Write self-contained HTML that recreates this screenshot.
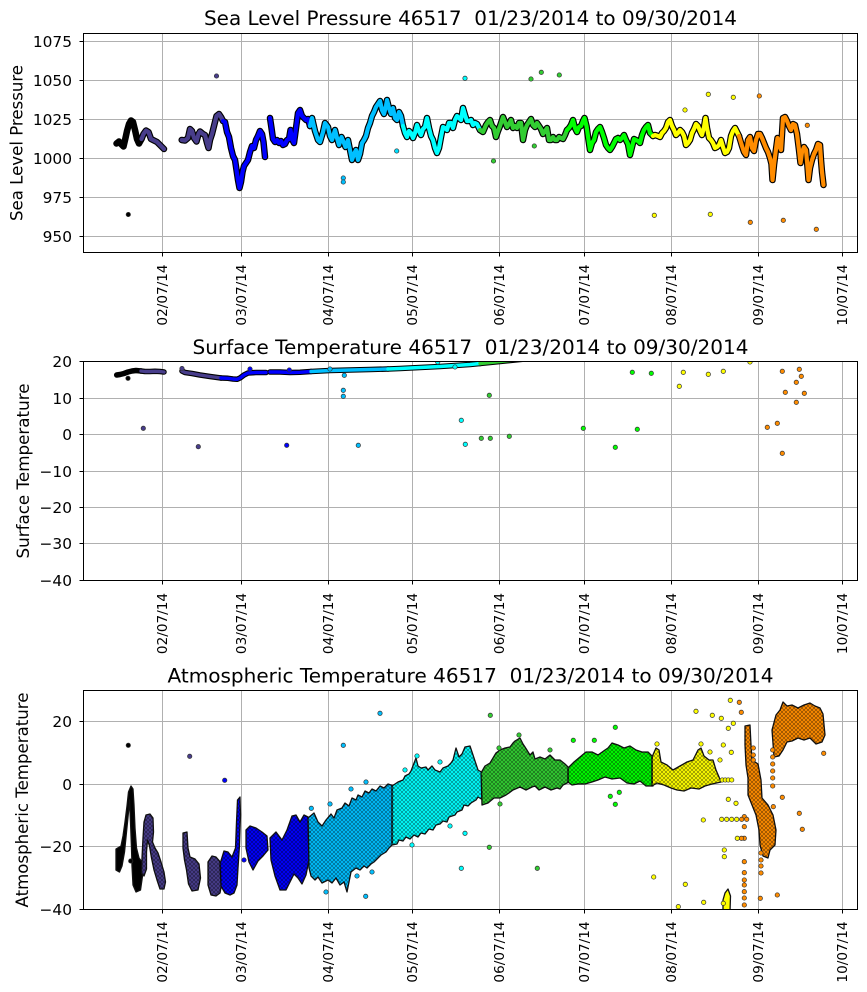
<!DOCTYPE html>
<html><head><meta charset="utf-8"><style>
html,body{margin:0;padding:0;background:#fff;}
svg{display:block;font-family:"DejaVu Sans","Liberation Sans",sans-serif;}
</style></head><body>
<svg width="867" height="992" viewBox="0 0 867 992" xmlns="http://www.w3.org/2000/svg">
<rect width="867" height="992" fill="#fff"/>
<defs>
<clipPath id="ax1"><rect x="83.5" y="33.5" width="774" height="219"/></clipPath>
<clipPath id="ax2"><rect x="83.5" y="361.5" width="774" height="219"/></clipPath>
<clipPath id="ax3"><rect x="83.5" y="690.5" width="774" height="219"/></clipPath>
<pattern id="sp" width="4" height="4" patternUnits="userSpaceOnUse"><circle cx="2" cy="2" r="1.4" fill="none" stroke="#000" stroke-width="0.6" opacity="0.6"/></pattern>
<!-- plot1 series -->
<path id="a_k" d="M116.5,143.5 L119,141.5 L121,144 L123.5,146.5 L125.5,138 L127,131 L129,124 L131,120.5 L133,122 L135,130 L137,139 L139,143.5 L141.5,139"/>
<path id="a_p" d="M141.5,139 L143.5,134 L146,130.5 L148.5,132 L151,139 L154,140.5 L157,142 L160,145 L164,149 M181.7,140 L185,140.5 L188,138 L190,129 L192,131 L194,138 L196.5,141.5 L198.5,134 L200,131.5 L203,134 L205,135 L207,143 L208.5,148 L210,140 L212,134 L214,126 L216.5,116 L219,114 L221,117 L223,121"/>
<path id="a_b" d="M223,121 L225,122 L227,132 L229,137 L231,148 L233,156 L235,160 L236.5,170 L238,180 L239.5,188 L241,182 L242.5,172 L244,166 L246,163 L248,160 L250,152 L252,146 L254,148 L256,140 L258,136 L260,131 L262,134 L263.5,142 L265,157 M270,118 L271.5,128 L273,139 L275,142 L277,140 L279,143 L281,141 L283,145 L285,144 L287,140 L289,139 L290.5,130 L292,139 L294,143 L296,128 L298,113 L300,110 L302,116 L304,118 L306,120 L308,119 L310,126"/>
<path id="a_s" d="M310,126 L312,118 L315,131 L318,140 L320,142 L323,132 L325,123 L328,127 L330,136 L332,140 L335,130 L337,138 L339,145 L341.5,137 L344,143 L345.5,147 L348,140 L350,150 L352,160 L354,154 L356,150 L358,160 L360,154 L362,143 L364,140 L366,136 L368,128 L370,123 L372,116 L374,112 L376,107 L378,104 L380,101 L382,110 L384,114 L386,106 L387,100 L389,108 L391,114 L393,108 L395,118 L397,120 L399,112 L401,116 L403,126"/>
<path id="a_c" d="M403,126 L405,133 L407,137 L409,131 L411,133 L413,138 L415,133 L417,125 L419,131 L421,135 L423,129 L425,127 L427,118 L429,128 L431,136 L433,140 L435,148 L437,153 L439,148 L441,137 L443,127 L445,128 L447,130 L449,123 L451,123 L453,128 L455,120 L457,116 L459,118 L461,120 L463,108 L465,115 L467,121 L469,121 L471,120 L473,125 L475,123 L477,124 L480,130"/>
<path id="a_g" d="M480,130 L483,132 L486,125 L488,122 L490,120 L492,126 L494,128 L496,137 L498,131 L500,126 L503,117 L505,122 L507,127 L509,124 L511,120 L513,128 L515,126 L517,128 L519,123 L521,123 L523,140 L525,130 L527,125 L529,122 L531,119 L533,125 L535,127 L537,123 L539,126 L541,129 L543,134 L545,131 L547,128 L549,140 L551,140 L553,137 L555,140 L557,140 L559,137 L561,138 L563,139 L565,135 L567,130"/>
<path id="a_l" d="M567,130 L569,128 L571,125 L573,120 L575,128 L577,132 L579,127 L581,126 L583,121 L584.5,118 L586.5,126 L588.5,140 L590,150 L592,143 L594,140 L596,132 L598,129 L600,127 L602,132 L604,138 L606,145 L608,148 L610,150 L612,147 L614,143 L616,139 L618,138 L620,140 L622,138 L624,135 L626,140 L628,144 L630,155 L632,147 L634,139 L636,140 L638,141 L640,143 L642,135 L644,130 L646,127 L648,125 L650,133 L653,136"/>
<path id="a_y" d="M653,136 L655,135 L658,136 L660,137 L662,133 L664,131 L666,128 L668,122 L670,120 L672,126 L674,130 L676,135 L678,133 L680,130 L682,132 L684,136 L686,145 L688,143 L690,140 L692,133 L694,129 L696,124 L698,126 L700,131 L702,135 L704,127 L705.5,118 L707,128 L709,138 L711,140 L713,143 L715,148 L717,147 L719,145 L721,140 L723,147 L725,153 L727,152 L729,148 L731,136 L733,131 L735,128 L737,132 L739,136"/>
<path id="a_o" d="M739,136 L742,146 L744,152 L746,155 L748,140 L750,137 L752,148 L754,151 L756,140 L758,134 L760,134 L762,138 L764,143 L766,148 L768,152 L770,158 L771.5,164 L772.5,180 L774,165 L775.5,153 L777.5,138 L779,145 L781,150 L783,118 L785,117 L787,121 L789,126 L791,130 L793,124 L795,125 L797,134 L799,150 L800.5,163 L802,152 L804,147 L806,150 L807.5,167 L808.5,180 L810,168 L812,160 L814,154 L816,150 L818,144 L820,145 L821,160 L822,172 L823.5,185"/>
<!-- plot2 series -->
<path id="b_k" d="M116.7,375 L120,374.5 L124,373.5 L128,372 L132,371 L136,370.5 L141,371"/>
<path id="b_p" d="M141,371 L145,371.5 L150,371.5 L155,371.3 L160,371.5 L164,372 M182,371 L185,372.5 L192,373.5 L200,375 L210,376.5 L221,378"/>
<path id="b_b" d="M221,378 L228,378.3 L233,379 L237,379.3 L240,378 L244,375 L248,373 L256,372.5 L266,372.5 M270,372 L280,372 L290,372.5 L300,372.3 L311,371.5"/>
<path id="b_s" d="M311,371.5 L330,370.5 L350,370 L370,369.5 L388,369"/>
<path id="b_c" d="M388,369 L400,368.5 L420,367.5 L440,366.5 L455,365.5 L470,364.5 L480,363.5"/>
<path id="b_g" d="M480,363.5 L490,362.5 L500,361.5 L525,359"/>
<!-- plot3 clouds -->
<path id="c_k" d="M116,870 L116,849 L121,846 L123,836 L125,822 L127,806 L128.5,792 L131,786 L133,789 L134,805 L135,828 L136.5,848 L139,858 L142,862 L142.5,876 L140.5,890 L136,892 L133,885 L132,866 L131.5,848 L130.5,822 L129.5,800 L128.5,812 L126.5,832 L124.5,852 L122,866 L119.5,872 Z"/>
<path id="c_p1" d="M142,858 L143,838 L144,822 L146,815 L150,814 L153,818 L153.5,832 L152.5,842 L155,848 L158,853 L161,862 L164,872 L165.5,882 L164,889 L160,889 L157,880 L154,870 L151.5,858 L149.5,846 L147.5,840 L146.5,852 L146.5,869 L144,876 L141.5,873 Z"/>
<path id="c_p2" d="M183,833 L187,832 L188,848 L190,857 L195,859 L199,864 L200.5,878 L198,890 L192,891 L188.5,884 L186.5,870 L184.5,860 L183,848 Z"/>
<path id="c_p3" d="M208,862 L212,856 L216,857 L219.5,861 L222,866 L222,882 L220,893 L216,896 L211,895 L208,885 Z"/>
<path id="c_b1" d="M220,864 L224,851 L228,852 L232,857 L235.5,848 L236.5,822 L237.5,800 L240,797 L240.5,815 L239.5,845 L238,868 L237,885 L234,893 L230,895 L225,893 L221,886 Z"/>
<path id="c_b2" d="M246,830 L250,826 L256,828 L262,832 L267,836 L268,850 L263,856 L258,861 L253,870 L249,862 L246,848 Z"/>
<path id="c_b3" d="M270,838 L276,832 L282,840 L287,830 L292,816 L296,815 L300,822 L304,815 L308,817 L311,830 L309,860 L306,875 L302,884 L298,878 L294,874 L290,882 L286,890 L280,890 L275,876 L271,860 Z"/>
<path id="c_s" d="M308,818 L314,813 L318,822 L322,826 L326,820 L331,814 L334,818 L337,810 L342,808 L345,803 L349,806 L352,798 L356,800 L358,795 L362,797 L365,791 L369,793 L372,789 L376,791 L380,786 L384,788 L388,784 L394,786 L394,843 L389,848 L386,852 L381,855 L378,858 L374,862 L371,864 L367,868 L364,866 L360,870 L356,868 L351,872 L347,892 L344,882 L340,885 L336,878 L332,883 L328,880 L322,883 L318,877 L315,880 L311,876 L309,868 Z"/>
<path id="c_c" d="M392,786 L398,782 L403,780 L405,776 L409,774 L411,771 L416,758 L418,766 L421,768 L426,767 L428,770 L432,766 L435,770 L440,772 L443,768 L448,766 L451,763 L453,760 L456,748 L459,757 L462,754 L465,747 L470,746 L472,752 L474,758 L478,770 L483,773 L483,800 L478,797 L476,800 L471,803 L468,806 L464,805 L462,810 L457,812 L455,815 L449,817 L447,822 L443,821 L440,824 L436,825 L433,830 L429,829 L425,834 L421,833 L418,837 L414,835 L410,839 L406,837 L403,841 L399,840 L397,844 L392,845 Z"/>
<path id="c_g" d="M481,773 L485,766 L490,763 L493,758 L496,753 L500,750 L505,748 L510,747 L513,743 L515,741 L520,738 L523,744 L525,747 L530,755 L533,752 L535,759 L540,757 L545,759 L550,755 L555,760 L560,760 L565,764 L569,768 L569,782 L563,785 L560,789 L557,788 L551,790 L545,787 L539,790 L535,786 L532,787 L526,790 L520,787 L513,790 L509,793 L506,795 L500,798 L494,798 L488,803 L482,805 Z"/>
<path id="c_l" d="M568,768 L574,762 L580,757 L586,752 L592,752 L598,755 L605,750 L608,748 L612,743 L618,745 L624,748 L630,746 L636,750 L642,752 L648,752 L653,757 L653,786 L646,786 L640,781 L634,784 L627,783 L620,778 L612,779 L605,777 L598,780 L592,782 L585,784 L578,784 L572,785 L568,782 Z"/>
<path id="c_y" d="M652,757 L656,748 L659,750 L661,762 L667,765 L673,770 L680,766 L687,762 L693,760 L698,750 L701,748 L704,756 L709,760 L713,760 L716,770 L719,777 L721,782 L712,784 L705,786 L699,789 L691,788 L684,791 L677,790 L671,788 L664,785 L657,783 L652,786 Z"/>
<path id="c_yb" d="M725,893 L728,889 L730.5,896 L730,912 L723,912 L723,900 Z"/>
<path id="c_o1" d="M745,726 L750,725 L751,745 L752,760 L758,764 L761,780 L762,798 L768,805 L773,815 L776,830 L775,845 L770,850 L768,858 L763,856 L760,845 L759,830 L756,815 L752,805 L748,795 L748,778 L746,765 L745,745 Z"/>
<path id="c_o2" d="M772,730 L776,715 L780,710 L783,702 L787,706 L792,705 L798,708 L804,705 L810,703 L815,706 L820,708 L823,714 L825,735 L822,742 L816,744 L810,738 L804,740 L798,738 L792,741 L787,742 L783,750 L779,756 L774,757 Z"/>
</defs>

<!-- ================= PLOT 1 ================= -->
<path d="M162.5 33.5V252.5M241.5 33.5V252.5M328.5 33.5V252.5M412.5 33.5V252.5M499.5 33.5V252.5M584.5 33.5V252.5M671.5 33.5V252.5M758.5 33.5V252.5M842.5 33.5V252.5M83.5 41.5H857.5M83.5 80.5H857.5M83.5 119.5H857.5M83.5 158.5H857.5M83.5 197.5H857.5M83.5 236.5H857.5" stroke="#b0b0b0" stroke-width="1" fill="none"/>
<g clip-path="url(#ax1)" fill="none" stroke-linejoin="round" stroke-linecap="round">
<g stroke="#000" stroke-width="6.5">
<use href="#a_k"/><use href="#a_p"/><use href="#a_b"/><use href="#a_s"/><use href="#a_c"/><use href="#a_g"/><use href="#a_l"/><use href="#a_y"/><use href="#a_o"/>
</g>
<g stroke-width="4.2">
<use href="#a_k" stroke="#000"/><use href="#a_p" stroke="#483D8B"/><use href="#a_b" stroke="#0000FF"/><use href="#a_s" stroke="#00BFFF"/><use href="#a_c" stroke="#00FFFF"/><use href="#a_g" stroke="#32CD32"/><use href="#a_l" stroke="#00FF00"/><use href="#a_y" stroke="#FFFF00"/><use href="#a_o" stroke="#FF8C00"/>
</g>
</g>
<g stroke="#333" stroke-width="0.7">
<circle cx="128.3" cy="214.5" r="2.2" fill="#000"/>
<circle cx="216.5" cy="76" r="2.2" fill="#483D8B"/>
<circle cx="343.3" cy="178" r="2.2" fill="#00BFFF"/><circle cx="343.3" cy="182" r="2.2" fill="#00BFFF"/>
<circle cx="396.7" cy="151" r="2.2" fill="#00DFFF"/><circle cx="465" cy="78.3" r="2.2" fill="#00FFFF"/>
<circle cx="493.5" cy="161" r="2.2" fill="#32CD32"/><circle cx="531" cy="79" r="2.2" fill="#32CD32"/><circle cx="541.3" cy="72.3" r="2.2" fill="#32CD32"/><circle cx="559.3" cy="75" r="2.2" fill="#32CD32"/><circle cx="534.3" cy="146" r="2.2" fill="#32CD32"/>
<circle cx="685" cy="110" r="2.2" fill="#FFFF00"/><circle cx="708.3" cy="94.3" r="2.2" fill="#FFFF00"/><circle cx="733.3" cy="97.3" r="2.2" fill="#FFFF00"/><circle cx="654.3" cy="215.3" r="2.2" fill="#FFFF00"/><circle cx="710.3" cy="214.3" r="2.2" fill="#FFFF00"/>
<circle cx="759.3" cy="96" r="2.2" fill="#FF8C00"/><circle cx="807.3" cy="125.3" r="2.2" fill="#FF8C00"/><circle cx="750.3" cy="222.3" r="2.2" fill="#FF8C00"/><circle cx="783.3" cy="220.3" r="2.2" fill="#FF8C00"/><circle cx="816.3" cy="229.3" r="2.2" fill="#FF8C00"/>
</g>
<rect x="83.5" y="33.5" width="774" height="219" fill="none" stroke="#000" stroke-width="1"/>
<path d="M162.5 252.5v4M241.5 252.5v4M328.5 252.5v4M412.5 252.5v4M499.5 252.5v4M584.5 252.5v4M671.5 252.5v4M758.5 252.5v4M842.5 252.5v4M83.5 41.5h-4M83.5 80.5h-4M83.5 119.5h-4M83.5 158.5h-4M83.5 197.5h-4M83.5 236.5h-4" stroke="#000" stroke-width="1"/>
<g font-size="15.4" text-anchor="end" fill="#000">
<text x="72" y="47">1075</text><text x="72" y="86">1050</text><text x="72" y="125">1025</text><text x="72" y="164">1000</text><text x="72" y="203">975</text><text x="72" y="242">950</text>
</g>
<g font-size="13.6" text-anchor="end" fill="#000">
<text transform="translate(166.8,264.5) rotate(-90)">02/07/14</text>
<text transform="translate(245.8,264.5) rotate(-90)">03/07/14</text>
<text transform="translate(332.8,264.5) rotate(-90)">04/07/14</text>
<text transform="translate(416.8,264.5) rotate(-90)">05/07/14</text>
<text transform="translate(503.8,264.5) rotate(-90)">06/07/14</text>
<text transform="translate(588.8,264.5) rotate(-90)">07/07/14</text>
<text transform="translate(675.8,264.5) rotate(-90)">08/07/14</text>
<text transform="translate(762.8,264.5) rotate(-90)">09/07/14</text>
<text transform="translate(846.8,264.5) rotate(-90)">10/07/14</text>
</g>
<text transform="translate(22.5,143) rotate(-90)" text-anchor="middle" font-size="16.4" textLength="156" lengthAdjust="spacingAndGlyphs">Sea Level Pressure</text>
<text x="470.5" y="25" text-anchor="middle" font-size="19.9" textLength="533" lengthAdjust="spacingAndGlyphs">Sea Level Pressure 46517&#160;&#160;01/23/2014 to 09/30/2014</text>

<!-- ================= PLOT 2 ================= -->
<path d="M162.5 361.5V580.5M241.5 361.5V580.5M328.5 361.5V580.5M412.5 361.5V580.5M499.5 361.5V580.5M584.5 361.5V580.5M671.5 361.5V580.5M758.5 361.5V580.5M842.5 361.5V580.5M83.5 398.5H857.5M83.5 434.5H857.5M83.5 471.5H857.5M83.5 507.5H857.5M83.5 543.5H857.5" stroke="#b0b0b0" stroke-width="1" fill="none"/>
<g clip-path="url(#ax2)" fill="none" stroke-linejoin="round" stroke-linecap="round">
<g stroke="#000" stroke-width="5.5">
<use href="#b_k"/><use href="#b_p"/><use href="#b_b"/><use href="#b_s"/><use href="#b_c"/><use href="#b_g"/>
</g>
<g stroke-width="3.4">
<use href="#b_k" stroke="#000"/><use href="#b_p" stroke="#483D8B"/><use href="#b_b" stroke="#0000FF"/><use href="#b_s" stroke="#00BFFF"/><use href="#b_c" stroke="#00FFFF"/><use href="#b_g" stroke="#32CD32"/>
</g>
<g stroke="#333" stroke-width="0.7">
<circle cx="128" cy="378.3" r="2.2" fill="#000"/>
<circle cx="143.3" cy="428.3" r="2.2" fill="#483D8B"/><circle cx="198.3" cy="446.7" r="2.2" fill="#483D8B"/><circle cx="182" cy="368.5" r="2.2" fill="#483D8B"/>
<circle cx="286.7" cy="445.3" r="2.2" fill="#0000FF"/><circle cx="250" cy="369" r="2.2" fill="#0000FF"/><circle cx="289.3" cy="370" r="2.2" fill="#0000FF"/>
<circle cx="330" cy="369" r="2.2" fill="#00BFFF"/><circle cx="344.3" cy="375.3" r="2.2" fill="#00BFFF"/><circle cx="343.3" cy="390.3" r="2.2" fill="#00BFFF"/><circle cx="343.3" cy="396.3" r="2.2" fill="#00BFFF"/><circle cx="358.3" cy="445.3" r="2.2" fill="#00BFFF"/>
<circle cx="437.7" cy="362" r="2.2" fill="#00FFFF"/><circle cx="461.3" cy="420.3" r="2.2" fill="#00FFFF"/><circle cx="465.3" cy="444.3" r="2.2" fill="#00FFFF"/><circle cx="455" cy="367" r="2.2" fill="#00FFFF"/>
<circle cx="489.3" cy="395.3" r="2.2" fill="#32CD32"/><circle cx="481.3" cy="438.3" r="2.2" fill="#32CD32"/><circle cx="490.3" cy="438.3" r="2.2" fill="#32CD32"/><circle cx="509.3" cy="436.3" r="2.2" fill="#32CD32"/>
<circle cx="632.3" cy="372.3" r="2.2" fill="#00FF00"/><circle cx="651.3" cy="373.3" r="2.2" fill="#00FF00"/><circle cx="583.3" cy="428.3" r="2.2" fill="#00FF00"/><circle cx="637.3" cy="429.3" r="2.2" fill="#00FF00"/><circle cx="615.3" cy="447.3" r="2.2" fill="#00FF00"/>
<circle cx="683.3" cy="372.3" r="2.2" fill="#FFFF00"/><circle cx="708.3" cy="374.3" r="2.2" fill="#FFFF00"/><circle cx="723.3" cy="371.3" r="2.2" fill="#FFFF00"/><circle cx="679.3" cy="386.3" r="2.2" fill="#FFFF00"/><circle cx="750" cy="362" r="2.2" fill="#FFFF00"/>
<circle cx="782.3" cy="371.3" r="2.2" fill="#FF8C00"/><circle cx="799.3" cy="369.3" r="2.2" fill="#FF8C00"/><circle cx="801.3" cy="376.3" r="2.2" fill="#FF8C00"/><circle cx="796.3" cy="382.3" r="2.2" fill="#FF8C00"/><circle cx="785.3" cy="392.3" r="2.2" fill="#FF8C00"/><circle cx="804.3" cy="393.3" r="2.2" fill="#FF8C00"/><circle cx="796.3" cy="402.3" r="2.2" fill="#FF8C00"/><circle cx="767.3" cy="427.3" r="2.2" fill="#FF8C00"/><circle cx="777.3" cy="423.3" r="2.2" fill="#FF8C00"/><circle cx="782.3" cy="453.3" r="2.2" fill="#FF8C00"/>
</g>
</g>
<rect x="83.5" y="361.5" width="774" height="219" fill="none" stroke="#000" stroke-width="1"/>
<path d="M162.5 580.5v4M241.5 580.5v4M328.5 580.5v4M412.5 580.5v4M499.5 580.5v4M584.5 580.5v4M671.5 580.5v4M758.5 580.5v4M842.5 580.5v4M83.5 361.5h-4M83.5 398.5h-4M83.5 434.5h-4M83.5 471.5h-4M83.5 507.5h-4M83.5 543.5h-4M83.5 580.5h-4" stroke="#000" stroke-width="1"/>
<g font-size="15.4" text-anchor="end" fill="#000">
<text x="72" y="367">20</text><text x="72" y="404">10</text><text x="72" y="440">0</text><text x="72" y="477">−10</text><text x="72" y="513">−20</text><text x="72" y="549">−30</text><text x="72" y="586">−40</text>
</g>
<g font-size="13.6" text-anchor="end" fill="#000">
<text transform="translate(166.8,593) rotate(-90)">02/07/14</text>
<text transform="translate(245.8,593) rotate(-90)">03/07/14</text>
<text transform="translate(332.8,593) rotate(-90)">04/07/14</text>
<text transform="translate(416.8,593) rotate(-90)">05/07/14</text>
<text transform="translate(503.8,593) rotate(-90)">06/07/14</text>
<text transform="translate(588.8,593) rotate(-90)">07/07/14</text>
<text transform="translate(675.8,593) rotate(-90)">08/07/14</text>
<text transform="translate(762.8,593) rotate(-90)">09/07/14</text>
<text transform="translate(846.8,593) rotate(-90)">10/07/14</text>
</g>
<text transform="translate(29,471) rotate(-90)" text-anchor="middle" font-size="16.4" textLength="175" lengthAdjust="spacingAndGlyphs">Surface Temperature</text>
<text x="470.5" y="354" text-anchor="middle" font-size="19.9" textLength="556" lengthAdjust="spacingAndGlyphs">Surface Temperature 46517&#160;&#160;01/23/2014 to 09/30/2014</text>

<!-- ================= PLOT 3 ================= -->
<path d="M162.5 690.5V909.5M241.5 690.5V909.5M328.5 690.5V909.5M412.5 690.5V909.5M499.5 690.5V909.5M584.5 690.5V909.5M671.5 690.5V909.5M758.5 690.5V909.5M842.5 690.5V909.5M83.5 721.5H857.5M83.5 784.5H857.5M83.5 846.5H857.5" stroke="#b0b0b0" stroke-width="1" fill="none"/>
<g clip-path="url(#ax3)">
<g stroke="#111" stroke-width="1.3" stroke-linejoin="round">
<use href="#c_k" fill="#000"/>
<use href="#c_p1" fill="#483D8B"/><use href="#c_p2" fill="#483D8B"/><use href="#c_p3" fill="#483D8B"/>
<use href="#c_b1" fill="#0000FF"/><use href="#c_b2" fill="#0000FF"/><use href="#c_b3" fill="#0000FF"/>
<use href="#c_s" fill="#00BFFF"/>
<use href="#c_c" fill="#00FFFF"/>
<use href="#c_g" fill="#32CD32"/>
<use href="#c_l" fill="#00FF00"/>
<use href="#c_y" fill="#FFFF00"/><use href="#c_yb" fill="#FFFF00"/>
<use href="#c_o1" fill="#FF8C00"/><use href="#c_o2" fill="#FF8C00"/>
</g>
<g fill="url(#sp)" stroke="none">
<use href="#c_p1"/><use href="#c_p2"/><use href="#c_p3"/><use href="#c_b1"/><use href="#c_b2"/><use href="#c_b3"/><use href="#c_s"/><use href="#c_c"/><use href="#c_g"/><use href="#c_l"/><use href="#c_y"/><use href="#c_o1"/><use href="#c_o2"/>
</g>
<g stroke="#333" stroke-width="0.7">
<circle cx="128.3" cy="745.3" r="2.2" fill="#000"/><circle cx="130.7" cy="861" r="2.2" fill="#000"/>
<circle cx="189.7" cy="756.3" r="2.2" fill="#483D8B"/>
<circle cx="224.7" cy="780.3" r="2.2" fill="#0000FF"/><circle cx="244" cy="860" r="2.2" fill="#0000FF"/>
<circle cx="343.3" cy="745.3" r="2.2" fill="#00BFFF"/><circle cx="380" cy="713.3" r="2.2" fill="#00BFFF"/><circle cx="311.3" cy="808.3" r="2.2" fill="#00BFFF"/><circle cx="365.7" cy="896.3" r="2.2" fill="#00BFFF"/>
<circle cx="330" cy="804" r="2.2" fill="#00BFFF"/><circle cx="351" cy="789" r="2.2" fill="#00BFFF"/><circle cx="366" cy="782" r="2.2" fill="#00BFFF"/><circle cx="326" cy="892" r="2.2" fill="#00BFFF"/><circle cx="357" cy="876" r="2.2" fill="#00BFFF"/><circle cx="372" cy="872" r="2.2" fill="#00BFFF"/>
<circle cx="465" cy="833.3" r="2.2" fill="#00FFFF"/><circle cx="461.3" cy="868.3" r="2.2" fill="#00FFFF"/><circle cx="417" cy="756" r="2.2" fill="#00FFFF"/>
<circle cx="405" cy="770" r="2.2" fill="#00FFFF"/><circle cx="440" cy="762" r="2.2" fill="#00FFFF"/><circle cx="450" cy="826" r="2.2" fill="#00FFFF"/><circle cx="412" cy="845" r="2.2" fill="#00FFFF"/>
<circle cx="490.3" cy="715.3" r="2.2" fill="#32CD32"/><circle cx="489.3" cy="847.3" r="2.2" fill="#32CD32"/><circle cx="537.3" cy="868.3" r="2.2" fill="#32CD32"/><circle cx="499" cy="748" r="2.2" fill="#32CD32"/>
<circle cx="519" cy="735" r="2.2" fill="#32CD32"/><circle cx="550" cy="750" r="2.2" fill="#32CD32"/><circle cx="500" cy="804" r="2.2" fill="#32CD32"/>
<circle cx="573.3" cy="740.3" r="2.2" fill="#00FF00"/><circle cx="615.3" cy="727.3" r="2.2" fill="#00FF00"/><circle cx="594.3" cy="740.3" r="2.2" fill="#00FF00"/><circle cx="610.3" cy="796.3" r="2.2" fill="#00FF00"/><circle cx="619.3" cy="792.3" r="2.2" fill="#00FF00"/><circle cx="615.3" cy="804.3" r="2.2" fill="#00FF00"/>
<g fill="#FFFF00">
<circle cx="696" cy="711.3" r="2.2"/><circle cx="730.3" cy="700.3" r="2.2"/><circle cx="712.3" cy="715.3" r="2.2"/><circle cx="721.3" cy="718.3" r="2.2"/><circle cx="733.3" cy="723.3" r="2.2"/><circle cx="728.3" cy="728.3" r="2.2"/><circle cx="723.3" cy="745" r="2.2"/><circle cx="731.3" cy="752.3" r="2.2"/><circle cx="720" cy="760" r="2.2"/>
<circle cx="653.7" cy="877" r="2.2"/><circle cx="685.3" cy="884.3" r="2.2"/><circle cx="703.7" cy="902.3" r="2.2"/><circle cx="703.3" cy="820" r="2.2"/>
<circle cx="721.7" cy="819.3" r="2.2"/><circle cx="726.7" cy="819.3" r="2.2"/><circle cx="731.7" cy="819.3" r="2.2"/><circle cx="736.7" cy="819.3" r="2.2"/>
<circle cx="724.3" cy="850" r="2.2"/><circle cx="724.3" cy="856.7" r="2.2"/><circle cx="728.3" cy="799.3" r="2.2"/><circle cx="736" cy="803.3" r="2.2"/><circle cx="737.3" cy="838.3" r="2.2"/><circle cx="723.3" cy="903.3" r="2.2"/><circle cx="678.3" cy="906.7" r="2.2"/>
<circle cx="722.3" cy="780" r="2.2"/><circle cx="725.3" cy="780" r="2.2"/><circle cx="728.3" cy="780" r="2.2"/><circle cx="731.7" cy="780" r="2.2"/>
<circle cx="657" cy="744" r="2.2"/><circle cx="701" cy="744" r="2.2"/><circle cx="710" cy="752" r="2.2"/>
</g>
<g fill="#FF8C00">
<circle cx="739.3" cy="702.3" r="2.2"/><circle cx="741.3" cy="712.3" r="2.2"/><circle cx="782.3" cy="797.3" r="2.2"/><circle cx="773.3" cy="806.7" r="2.2"/><circle cx="799.3" cy="813.3" r="2.2"/><circle cx="802.3" cy="829.3" r="2.2"/><circle cx="777.3" cy="895" r="2.2"/><circle cx="760.3" cy="898.3" r="2.2"/><circle cx="823.7" cy="753.3" r="2.2"/>
<circle cx="744.3" cy="816.7" r="2.2"/><circle cx="744.3" cy="826.7" r="2.2"/><circle cx="744.3" cy="838.3" r="2.2"/><circle cx="741.5" cy="838.3" r="2.2"/><circle cx="744.3" cy="861.7" r="2.2"/><circle cx="744.3" cy="872.7" r="2.2"/><circle cx="744.3" cy="880" r="2.2"/><circle cx="744.3" cy="885" r="2.2"/><circle cx="744.3" cy="891.7" r="2.2"/><circle cx="744.3" cy="898" r="2.2"/><circle cx="744.3" cy="905" r="2.2"/>
<circle cx="741.7" cy="819.3" r="2.2"/><circle cx="746.7" cy="819.3" r="2.2"/>
<circle cx="761" cy="853" r="2.2"/><circle cx="761" cy="860" r="2.2"/><circle cx="761" cy="866" r="2.2"/><circle cx="761" cy="873" r="2.2"/>
<circle cx="772.7" cy="750" r="2.2"/><circle cx="772.7" cy="757" r="2.2"/><circle cx="772.7" cy="764" r="2.2"/><circle cx="772.7" cy="771" r="2.2"/><circle cx="772.7" cy="778" r="2.2"/><circle cx="772.7" cy="786" r="2.2"/>
<circle cx="753.3" cy="748" r="2.2"/><circle cx="753.3" cy="755" r="2.2"/><circle cx="753.3" cy="760" r="2.2"/>
</g>
</g>
</g>
<rect x="83.5" y="690.5" width="774" height="219" fill="none" stroke="#000" stroke-width="1"/>
<path d="M162.5 909.5v4M241.5 909.5v4M328.5 909.5v4M412.5 909.5v4M499.5 909.5v4M584.5 909.5v4M671.5 909.5v4M758.5 909.5v4M842.5 909.5v4M83.5 721.5h-4M83.5 784.5h-4M83.5 846.5h-4M83.5 909.5h-4" stroke="#000" stroke-width="1"/>
<g font-size="15.4" text-anchor="end" fill="#000">
<text x="72" y="727">20</text><text x="72" y="790">0</text><text x="72" y="852">−20</text><text x="72" y="915">−40</text>
</g>
<g font-size="13.6" text-anchor="end" fill="#000">
<text transform="translate(166.8,921.5) rotate(-90)">02/07/14</text>
<text transform="translate(245.8,921.5) rotate(-90)">03/07/14</text>
<text transform="translate(332.8,921.5) rotate(-90)">04/07/14</text>
<text transform="translate(416.8,921.5) rotate(-90)">05/07/14</text>
<text transform="translate(503.8,921.5) rotate(-90)">06/07/14</text>
<text transform="translate(588.8,921.5) rotate(-90)">07/07/14</text>
<text transform="translate(675.8,921.5) rotate(-90)">08/07/14</text>
<text transform="translate(762.8,921.5) rotate(-90)">09/07/14</text>
<text transform="translate(846.8,921.5) rotate(-90)">10/07/14</text>
</g>
<text transform="translate(28,800) rotate(-90)" text-anchor="middle" font-size="16.4" textLength="215" lengthAdjust="spacingAndGlyphs">Atmospheric Temperature</text>
<text x="470.5" y="682.6" text-anchor="middle" font-size="19.9" textLength="606" lengthAdjust="spacingAndGlyphs">Atmospheric Temperature 46517&#160;&#160;01/23/2014 to 09/30/2014</text>
</svg>
</body></html>
